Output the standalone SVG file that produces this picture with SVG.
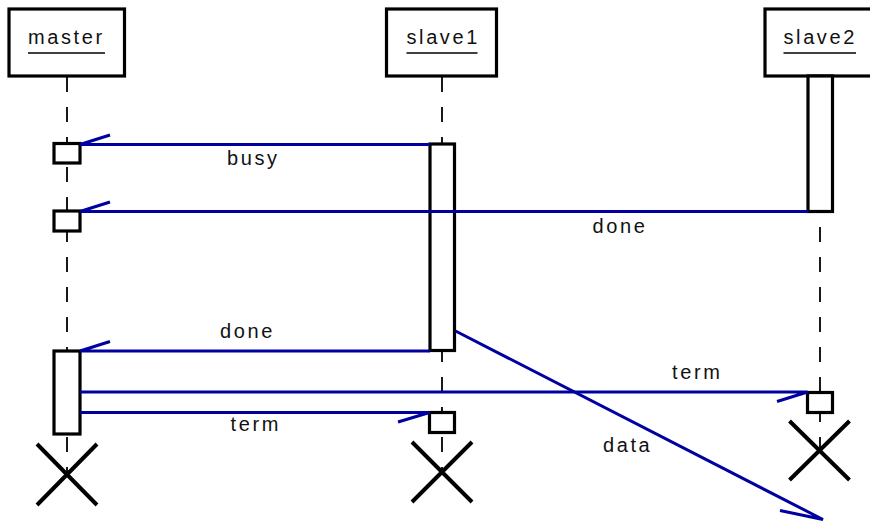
<svg xmlns="http://www.w3.org/2000/svg" width="870" height="521" viewBox="0 0 870 521">
  <style>
    .frame { fill: #ffffff; stroke: #000000; stroke-width: 3.2; }
    .act { fill: #ffffff; stroke: #000000; stroke-width: 3.2; }
    .life { stroke: #000000; stroke-width: 1.8; stroke-dasharray: 15 15; fill: none; }
    .uline { stroke: #000000; stroke-width: 1.6; }
    .kill { stroke: #000000; stroke-width: 4; fill: none; }
    .msg { stroke: #0000a0; stroke-width: 3; fill: none; stroke-linecap: butt; }
    .lbl { font-family: "Liberation Sans", Arial, sans-serif; font-size: 20px; letter-spacing: 2.6px; fill: #111111; }
  </style>

  <rect x="0" y="0" width="870" height="521" fill="#ffffff"/>

  <!-- master lifeline -->
  <g id="master">
    <line class="life" x1="67" y1="77" x2="67" y2="475"/>
    <rect class="frame" x="9" y="9" width="115.5" height="67"/>
    <text class="lbl" x="28" y="44">master</text>
    <line class="uline" x1="28" y1="53" x2="105" y2="53"/>
    <rect class="act" x="54" y="143.5" width="26" height="19.5"/>
    <rect class="act" x="54" y="211" width="26" height="20"/>
    <rect class="act" x="54" y="351" width="26" height="83"/>
    <path class="kill" d="M37 444 L97 505 M97 444 L37 505"/>
  </g>

  <!-- slave1 lifeline -->
  <g id="slave1">
    <line class="life" x1="442" y1="77" x2="442" y2="472"/>
    <rect class="frame" x="386.5" y="9" width="110" height="67"/>
    <text class="lbl" x="406.5" y="44">slave1</text>
    <line class="uline" x1="406.5" y1="53" x2="477.5" y2="53"/>
    <rect class="act" x="430" y="144" width="24.5" height="206.5"/>
    <rect class="act" x="429.5" y="412.5" width="25" height="20"/>
    <path class="kill" d="M412 442 L472 502 M472 442 L412 502"/>
  </g>

  <!-- slave2 lifeline -->
  <g id="slave2">
    <line class="life" x1="820" y1="77" x2="820" y2="450"/>
    <rect class="frame" x="765" y="9" width="110" height="67"/>
    <text class="lbl" x="783.5" y="44">slave2</text>
    <line class="uline" x1="783.5" y1="53" x2="856" y2="53"/>
    <rect class="act" x="808" y="76" width="24.5" height="135.5"/>
    <rect class="act" x="807.5" y="392.5" width="25" height="20"/>
    <path class="kill" d="M789.5 421 L849.5 480 M849.5 421 L789.5 480"/>
  </g>

  <!-- messages -->
  <g id="messages">
    <path class="msg" d="M430 144.5 L80 144.5 L110 135"/>
    <text class="lbl" x="227" y="164.5">busy</text>

    <path class="msg" d="M808 211.5 L80 211.5 L110 202"/>
    <text class="lbl" x="592.5" y="233">done</text>

    <path class="msg" d="M430 351 L80 351 L110 341.5"/>
    <text class="lbl" x="220" y="338">done</text>

    <path class="msg" d="M80 392 L807.5 392 L777 401.5"/>
    <text class="lbl" x="672" y="379">term</text>

    <path class="msg" d="M80 412.5 L429.5 412.5 L398 422"/>
    <text class="lbl" x="230.5" y="431">term</text>

    <path class="msg" d="M455.5 331 L823 519.5 L780 510.5"/>
    <text class="lbl" x="603" y="451.5">data</text>
  </g>
</svg>
